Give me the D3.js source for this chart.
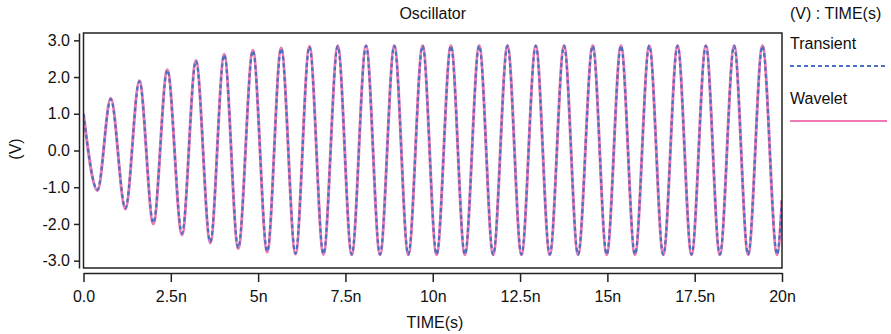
<!DOCTYPE html>
<html>
<head>
<meta charset="utf-8">
<script src="https://cdn.jsdelivr.net/npm/d3@7"></script>
<style>
  body { margin: 0; background: #fff; }
  svg { font-family: "Liberation Sans", Arial, sans-serif; }
</style>
</head>
<body>
<div id="chart"></div>
<script>
// time of each extremum (ns)
const timeNs = [0, 0.40, 0.78, 1.20, 1.60, 2.00, 2.40, 2.82, 3.22, 3.63, 4.03, 4.43, 4.85, 5.26, 5.66,
    6.07, 6.47, 6.87, 7.28, 7.68, 8.09, 8.49, 8.90, 9.30, 9.71, 10.11, 10.52, 10.92, 11.33, 11.73,
    12.14, 12.54, 12.95, 13.35, 13.76, 14.16, 14.58, 14.98, 15.39, 15.79, 16.20, 16.60, 17.01, 17.41,
    17.82, 18.22, 18.63, 19.03, 19.44, 19.86, 20.0];

const transientV = [1.00, -1.07, 1.40, -1.57, 1.88, -1.97, 2.19, -2.26, 2.44, -2.49, 2.61, -2.65, 2.72, -2.75, 2.78,
    -2.81, 2.83, -2.82, 2.84, -2.83, 2.85, -2.83, 2.85, -2.83, 2.85, -2.83, 2.85, -2.83, 2.85, -2.83,
    2.85, -2.83, 2.85, -2.83, 2.85, -2.83, 2.85, -2.83, 2.85, -2.83, 2.85, -2.83, 2.85, -2.83,
    2.85, -2.83, 2.85, -2.83, 2.85, -2.83, -1.30];

const waveletV = [1.00, -1.09, 1.42, -1.60, 1.90, -2.00, 2.20, -2.30, 2.45, -2.52, 2.62, -2.67, 2.73, -2.77, 2.80,
    -2.82, 2.84, -2.83, 2.85, -2.84, 2.86, -2.84, 2.86, -2.84, 2.86, -2.84, 2.86, -2.84, 2.86, -2.84,
    2.86, -2.84, 2.86, -2.84, 2.86, -2.84, 2.86, -2.84, 2.86, -2.84, 2.86, -2.84, 2.86, -2.84,
    2.86, -2.84, 2.86, -2.84, 2.86, -2.84, -1.35];

const xTicks = [0, 2.5, 5, 7.5, 10, 12.5, 15, 17.5, 20];
const xTickLabels = ["0.0", "2.5n", "5n", "7.5n", "10n", "12.5n", "15n", "17.5n", "20n"];
const yTicks = [-3, -2, -1, 0, 1, 2, 3];

const seriesNames = ["Transient", "Wavelet"];
const blue = "#4a70bf";
const pink = "#ef7ab3";

const width = 891, height = 334;
const plot = { left: 83.5, right: 782, top: 33, bottom: 268 };

const svg = d3.select("#chart").append("svg")
    .attr("width", width)
    .attr("height", height)
    .style("font-size", "16px");

const x = d3.scaleLinear().domain([0, 20]).range([plot.left, plot.right]);
const y = d3.scaleLinear().domain([-3.2, 3.2]).range([plot.bottom, plot.top]);

// x axis, offset below the box
const xAxis = svg.append("g")
    .attr("transform", `translate(0,${plot.bottom + 5})`)
    .call(d3.axisBottom(x).tickValues(xTicks).tickSize(9).tickSizeOuter(0)
        .tickFormat((d, i) => xTickLabels[i]));
xAxis.select(".domain").attr("stroke", "#222").attr("stroke-width", 1.5);
xAxis.selectAll(".tick line").attr("stroke", "#222").attr("stroke-width", 1.5);
xAxis.selectAll(".tick text").attr("fill", "#111").style("font-size", "16px").attr("dy", "1.05em");

// y axis, offset left of the box
const yAxis = svg.append("g")
    .attr("transform", `translate(${plot.left - 4.5},0)`)
    .call(d3.axisLeft(y).tickValues(yTicks).tickSize(5).tickSizeOuter(0)
        .tickFormat(d => d.toFixed(1)));
yAxis.select(".domain").attr("stroke", "#222").attr("stroke-width", 1.5);
yAxis.selectAll(".tick line").attr("stroke", "#222").attr("stroke-width", 1.5);
yAxis.selectAll(".tick text").attr("fill", "#111").style("font-size", "16px").attr("x", -9);

svg.append("clipPath").attr("id", "plotclip")
    .append("rect")
    .attr("x", plot.left).attr("y", plot.top)
    .attr("width", plot.right - plot.left).attr("height", plot.bottom - plot.top);

const line = d3.line()
    .curve(d3.curveMonotoneX)
    .x((d, i) => x(timeNs[i]))
    .y(d => y(d));

const lines = svg.append("g").attr("clip-path", "url(#plotclip)");

lines.append("path")
    .attr("d", line(waveletV))
    .attr("fill", "none")
    .attr("stroke", pink)
    .attr("stroke-width", 3);

lines.append("path")
    .attr("d", line(transientV))
    .attr("fill", "none")
    .attr("stroke", blue)
    .attr("stroke-width", 2.2)
    .attr("stroke-dasharray", "4,3");

// plot frame
svg.append("rect")
    .attr("x", plot.left).attr("y", plot.top)
    .attr("width", plot.right - plot.left).attr("height", plot.bottom - plot.top)
    .attr("fill", "none")
    .attr("stroke", "#222")
    .attr("stroke-width", 1.5);

// title + axis labels
svg.append("text")
    .attr("x", (plot.left + plot.right) / 2).attr("y", 19)
    .attr("text-anchor", "middle")
    .attr("fill", "#111")
    .text("Oscillator");

svg.append("text")
    .attr("x", 435).attr("y", 328)
    .attr("text-anchor", "middle")
    .attr("fill", "#111")
    .text("TIME(s)");

svg.append("text")
    .attr("transform", "translate(21,149) rotate(-90)")
    .attr("text-anchor", "middle")
    .attr("fill", "#111")
    .text("(V)");

// legend
const legend = svg.append("g").attr("transform", "translate(790,0)");
legend.append("text").attr("x", 0).attr("y", 19).attr("fill", "#111").text("(V) : TIME(s)");

const legendItems = legend.selectAll("g.item")
    .data(seriesNames)
    .join("g")
    .attr("class", "item")
    .attr("transform", (d, i) => `translate(0,${i * 55})`);

legendItems.append("text")
    .attr("x", 0).attr("y", 49)
    .attr("fill", "#111")
    .text(d => d);

legendItems.append("line")
    .attr("x1", 0).attr("x2", 97)
    .attr("y1", 66).attr("y2", 66)
    .attr("stroke", (d, i) => i === 0 ? blue : pink)
    .attr("stroke-width", 2)
    .attr("stroke-dasharray", (d, i) => i === 0 ? "4,3" : null);
</script>
</body>
</html>
